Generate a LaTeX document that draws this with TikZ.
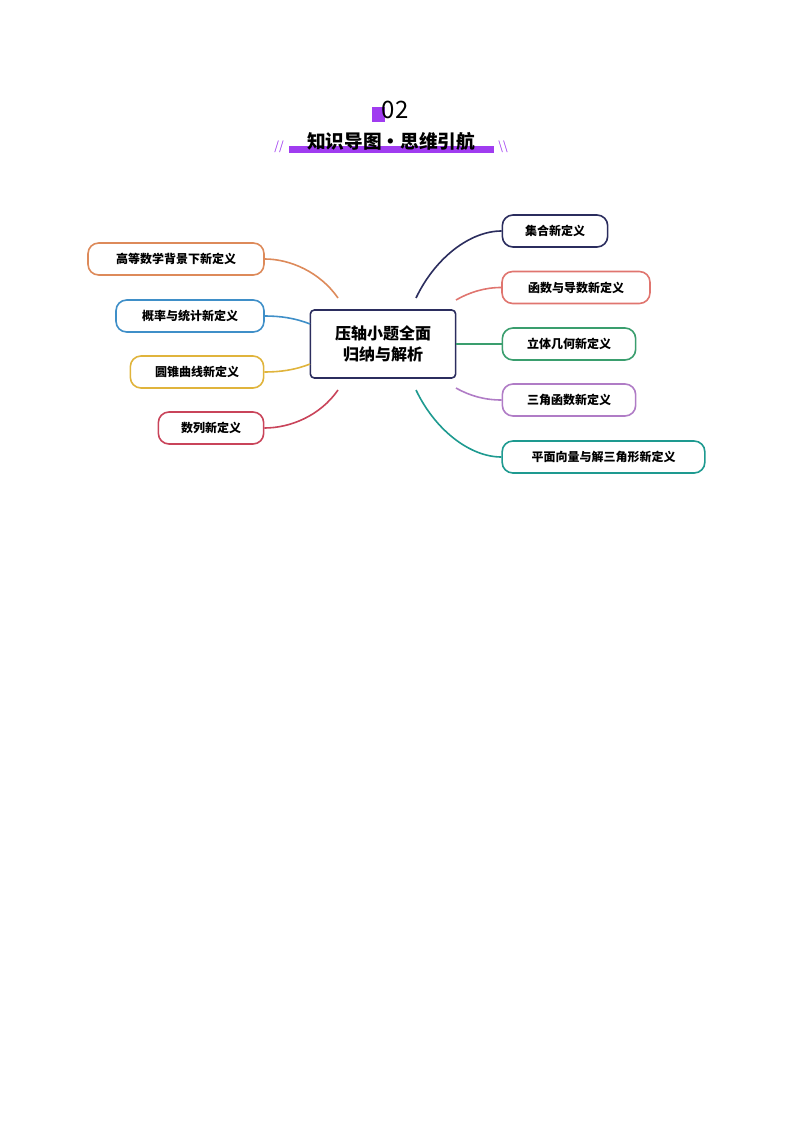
\documentclass[tikz,border=0pt]{standalone}
\usepackage{fontspec}
\setmainfont{Noto Sans CJK SC}
\usetikzlibrary{calc}
\definecolor{cnavy}{RGB}{43,45,94}
\definecolor{csalmon}{RGB}{224,117,111}
\definecolor{cgreen}{RGB}{58,158,110}
\definecolor{cpurple}{RGB}{176,124,198}
\definecolor{cteal}{RGB}{30,154,144}
\definecolor{corange}{RGB}{221,138,90}
\definecolor{cblue}{RGB}{63,143,200}
\definecolor{cyellow}{RGB}{224,180,60}
\definecolor{cred}{RGB}{201,68,90}
\definecolor{cviolet}{RGB}{160,60,240}
\tikzset{every path/.style={line width=1.2pt}}
\begin{document}
\begin{tikzpicture}[x=0.75pt,y=-0.75pt]
\useasboundingbox (0,0) rectangle (794,1123);
% title
\fill[cviolet] (372,107) rectangle (385,122);
\node (num) at (395,110) {\fontsize{18}{18}\selectfont 02};
\fill[cviolet] (289,146) rectangle (494,153);
\node[font=\bfseries\fontsize{14}{14}\selectfont] (title) at (391,141) {知识导图·思维引航};
\node[text=cviolet,font=\itshape\fontsize{9}{9}\selectfont] (ll) at (279,147) {//};
\node[text=cviolet,font=\fontsize{9}{9}\selectfont] (rr) at (503,147) {\textbackslash\textbackslash};

\begin{scope}[every node/.style={draw,rounded corners=8pt,minimum height=24pt,
line width=1.2pt,inner sep=0pt,fill=white,font=\bfseries\fontsize{9}{9}\selectfont}]
\node[draw=cnavy,text=black,rounded corners=3pt,minimum width=109pt,minimum height=51pt,
font=\bfseries\fontsize{12}{16}\selectfont,align=center] (c) at (383,344) {压轴小题全面\\归纳与解析};
\node[draw=cnavy,minimum width=79pt] (r1) at (555,231) {集合新定义};
\node[draw=csalmon,minimum width=111pt] (r2) at (576,287.5) {函数与导数新定义};
\node[draw=cgreen,minimum width=100pt] (r3) at (569,344) {立体几何新定义};
\node[draw=cpurple,minimum width=100pt] (r4) at (569,400) {三角函数新定义};
\node[draw=cteal,minimum width=152pt] (r5) at (603.5,457) {平面向量与解三角形新定义};
\node[draw=corange,minimum width=132pt] (l1) at (176,259) {高等数学背景下新定义};
\node[draw=cblue,minimum width=111pt] (l2) at (190,316) {概率与统计新定义};
\node[draw=cyellow,minimum width=100pt] (l3) at (197,372) {圆锥曲线新定义};
\node[draw=cred,minimum width=79pt] (l4) at (211,428) {数列新定义};
\end{scope}

\coordinate (s1) at (416,298);
\coordinate (s2) at (456,300);
\coordinate (s4) at (456,388);
\coordinate (s5) at (416,390);
\coordinate (t1) at (338,298);
\coordinate (t2) at (310,324);
\coordinate (t3) at (310,364);
\coordinate (t4) at (338,390);

\draw[cnavy] (s1) .. controls (435,258) and (470,231) .. (r1.west);
\draw[csalmon] (s2) .. controls (470,292) and (485,287.5) .. (r2.west);
\draw[cgreen] (c.east |- r3) -- (r3.west);
\draw[cpurple] (s4) .. controls (470,396) and (485,400) .. (r4.west);
\draw[cteal] (s5) .. controls (435,430) and (470,457) .. (r5.west);
\draw[corange] (t1) .. controls (320,272) and (290,259) .. (l1.east);
\draw[cblue] (t2) .. controls (295,318) and (280,316) .. (l2.east);
\draw[cyellow] (t3) .. controls (295,370) and (280,372) .. (l3.east);
\draw[cred] (t4) .. controls (320,416) and (290,428) .. (l4.east);
\end{tikzpicture}
\end{document}
